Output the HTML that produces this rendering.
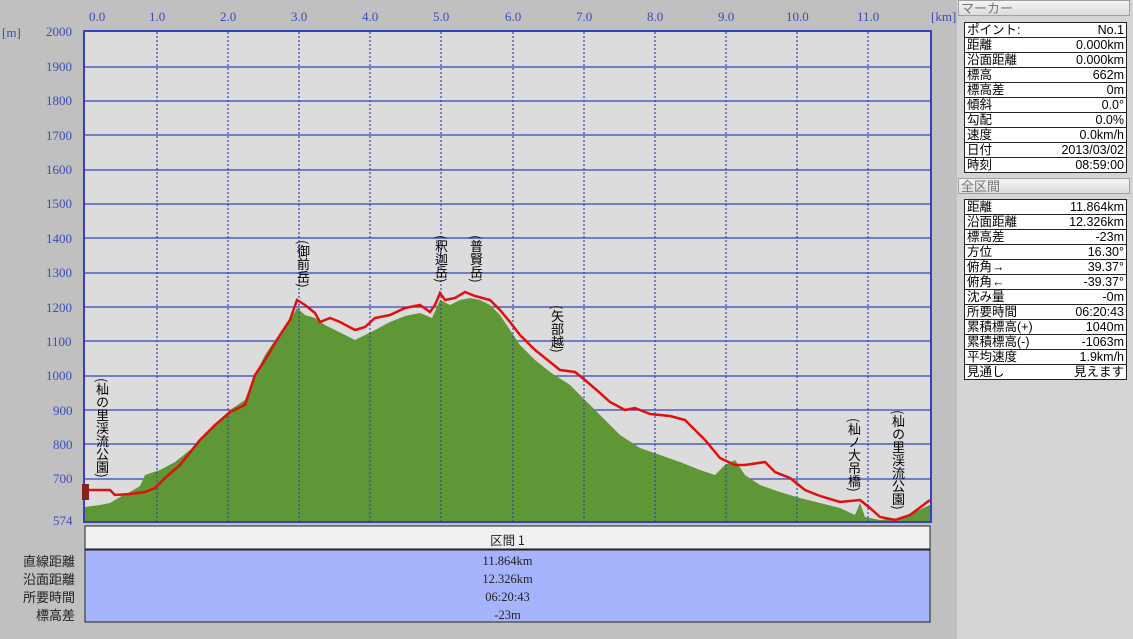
<!DOCTYPE html>
<html><head><meta charset="utf-8"><style>
body{margin:0;width:1133px;height:639px;background:#c0c0c0;position:relative;overflow:hidden;font-family:"Liberation Serif","Noto Serif CJK SC","Noto Sans CJK JP",serif;}
.ax{position:absolute;color:#3c4cb4;font-size:13px;}
.rp{position:absolute;left:957px;top:0;width:176px;height:639px;background:#d4d4d4;}
.hd{position:absolute;left:958px;width:172px;height:16px;background:linear-gradient(#f4f4f4,#dcdcdc);border:1px solid #a0a0a0;font-size:13px;color:#777;line-height:16px;padding-left:2px;box-sizing:border-box;font-family:"Liberation Sans","Noto Sans CJK JP",sans-serif;}
table{position:absolute;left:964px;border-collapse:collapse;background:#fff;font-size:12.5px;width:163px;font-family:"Liberation Sans","Noto Sans CJK JP",sans-serif;border:1px solid #222;}
td{border-top:1px solid #222;border-bottom:1px solid #222;height:14px;padding:0 2px;line-height:14px;white-space:nowrap;}
td:last-child{text-align:right;}
.vl{position:absolute;writing-mode:vertical-rl;font-size:13px;color:#000;font-family:"Noto Sans CJK JP",sans-serif;line-height:14px;}
.lb{position:absolute;left:0;width:75px;text-align:right;font-size:13px;color:#222;font-family:"Noto Sans CJK JP",sans-serif;}
.vv{position:absolute;left:85px;width:845px;text-align:center;font-size:12.5px;color:#222;}
</style></head><body>
<div class="ax" style="left:2px;top:25px">[m]</div>
<div class="ax" style="left:931px;top:9px">[km]</div>
<div class="ax" style="left:89px;top:9px">0.0</div>
<div class="ax" style="left:149px;top:9px">1.0</div>
<div class="ax" style="left:220px;top:9px">2.0</div>
<div class="ax" style="left:291px;top:9px">3.0</div>
<div class="ax" style="left:362px;top:9px">4.0</div>
<div class="ax" style="left:433px;top:9px">5.0</div>
<div class="ax" style="left:505px;top:9px">6.0</div>
<div class="ax" style="left:576px;top:9px">7.0</div>
<div class="ax" style="left:647px;top:9px">8.0</div>
<div class="ax" style="left:718px;top:9px">9.0</div>
<div class="ax" style="left:786px;top:9px">10.0</div>
<div class="ax" style="left:857px;top:9px">11.0</div>
<div class="ax" style="left:46px;top:24px">2000</div>
<div class="ax" style="left:46px;top:59px">1900</div>
<div class="ax" style="left:46px;top:93px">1800</div>
<div class="ax" style="left:46px;top:128px">1700</div>
<div class="ax" style="left:46px;top:162px">1600</div>
<div class="ax" style="left:46px;top:196px">1500</div>
<div class="ax" style="left:46px;top:231px">1400</div>
<div class="ax" style="left:46px;top:265px">1300</div>
<div class="ax" style="left:46px;top:300px">1200</div>
<div class="ax" style="left:46px;top:334px">1100</div>
<div class="ax" style="left:46px;top:368px">1000</div>
<div class="ax" style="left:53px;top:403px">900</div>
<div class="ax" style="left:53px;top:437px">800</div>
<div class="ax" style="left:53px;top:471px">700</div>
<div class="ax" style="left:53px;top:513px">574</div>
<svg style="position:absolute;left:0;top:0" width="957" height="639">
<rect x="84" y="31" width="847" height="491" fill="#dcdcdc" stroke="#3344bb" stroke-width="2"/>
<g stroke="#3344bb" stroke-width="1.2">
<line x1="85" x2="930" y1="67" y2="67"/><line x1="85" x2="930" y1="101" y2="101"/><line x1="85" x2="930" y1="135" y2="135"/><line x1="85" x2="930" y1="170" y2="170"/><line x1="85" x2="930" y1="204" y2="204"/><line x1="85" x2="930" y1="238" y2="238"/><line x1="85" x2="930" y1="273" y2="273"/><line x1="85" x2="930" y1="307" y2="307"/><line x1="85" x2="930" y1="341" y2="341"/><line x1="85" x2="930" y1="376" y2="376"/><line x1="85" x2="930" y1="410" y2="410"/><line x1="85" x2="930" y1="444" y2="444"/><line x1="85" x2="930" y1="479" y2="479"/>
</g>
<polygon fill="#5f9636" points="85,507 100,505 110,503 120,497 130,492 140,486 145,475 160,470 175,462 190,450 210,430 230,410 245,400 255,375 265,355 275,340 285,330 297,308 305,315 315,318 325,325 335,330 345,335 355,340 365,335 375,330 390,322 405,316 420,313 432,318 440,300 450,305 460,300 470,298 480,300 490,305 500,315 510,330 520,345 535,360 550,372 570,385 590,405 605,420 620,435 640,448 660,455 680,462 700,470 715,475 725,465 735,460 745,475 760,485 780,492 800,498 820,503 840,508 855,515 860,503 865,517 880,520 900,518 915,512 930,505 930,521 85,521"/>
<g stroke="#3344bb" stroke-width="1.2" stroke-dasharray="2,2">
<line x1="157" x2="157" y1="32" y2="521"/><line x1="228" x2="228" y1="32" y2="521"/><line x1="299" x2="299" y1="32" y2="521"/><line x1="370" x2="370" y1="32" y2="521"/><line x1="441" x2="441" y1="32" y2="521"/><line x1="513" x2="513" y1="32" y2="521"/><line x1="584" x2="584" y1="32" y2="521"/><line x1="655" x2="655" y1="32" y2="521"/><line x1="726" x2="726" y1="32" y2="521"/><line x1="797" x2="797" y1="32" y2="521"/><line x1="868" x2="868" y1="32" y2="521"/>
</g>
<polyline fill="none" stroke="#e01010" stroke-width="2.5" points="85,490 110,490 115,495 130,494 145,492 155,488 165,478 180,465 200,440 215,425 230,412 245,405 255,375 265,360 280,335 290,320 297,300 305,305 315,313 320,322 330,318 340,322 355,330 365,327 375,318 390,315 405,308 420,305 430,312 435,305 440,293 445,300 455,298 465,292 475,296 490,300 500,310 510,322 520,335 535,350 550,362 560,370 575,372 585,380 600,393 610,402 625,410 635,408 650,414 670,416 685,420 695,430 705,440 720,458 735,465 745,465 765,462 775,472 790,478 805,490 820,496 840,502 860,500 870,508 880,517 895,520 910,515 930,500"/>
<rect x="82" y="484" width="7" height="16" fill="#8b2020"/>
<rect x="85" y="526" width="845" height="23" fill="#f0f0f0" stroke="#222" stroke-width="1"/>
<rect x="85" y="550" width="845" height="72" fill="#a5b4fc" stroke="#222" stroke-width="1"/>
</svg>
<div class="vl" style="left:95px;top:378px">(杣の里渓流公園)</div>
<div class="vl" style="left:296px;top:240px">(御前岳)</div>
<div class="vl" style="left:434px;top:235px">(釈迦岳)</div>
<div class="vl" style="left:469px;top:235px">(普賢岳)</div>
<div class="vl" style="left:550px;top:305px">(矢部越)</div>
<div class="vl" style="left:847px;top:418px">(杣ノ大吊橋)</div>
<div class="vl" style="left:891px;top:410px">(杣の里渓流公園)</div>
<div class="vv" style="top:530px;font-family:'Noto Sans CJK JP',sans-serif">区間 1</div>
<div class="lb" style="top:551px">直線距離</div><div class="vv" style="top:554px">11.864km</div>
<div class="lb" style="top:569px">沿面距離</div><div class="vv" style="top:572px">12.326km</div>
<div class="lb" style="top:587px">所要時間</div><div class="vv" style="top:590px">06:20:43</div>
<div class="lb" style="top:605px">標高差</div><div class="vv" style="top:608px">-23m</div>
<div class="rp"></div>
<div class="hd" style="top:0">マーカー</div>
<table style="top:22px">
<tr><td>ポイント:</td><td>No.1</td></tr><tr><td>距離</td><td>0.000km</td></tr><tr><td>沿面距離</td><td>0.000km</td></tr><tr><td>標高</td><td>662m</td></tr><tr><td>標高差</td><td>0m</td></tr><tr><td>傾斜</td><td>0.0°</td></tr><tr><td>勾配</td><td>0.0%</td></tr><tr><td>速度</td><td>0.0km/h</td></tr><tr><td>日付</td><td>2013/03/02</td></tr><tr><td>時刻</td><td>08:59:00</td></tr>
</table>
<div class="hd" style="top:178px">全区間</div>
<table style="top:199px">
<tr><td>距離</td><td>11.864km</td></tr><tr><td>沿面距離</td><td>12.326km</td></tr><tr><td>標高差</td><td>-23m</td></tr><tr><td>方位</td><td>16.30°</td></tr><tr><td>俯角→</td><td>39.37°</td></tr><tr><td>俯角←</td><td>-39.37°</td></tr><tr><td>沈み量</td><td>-0m</td></tr><tr><td>所要時間</td><td>06:20:43</td></tr><tr><td>累積標高(+)</td><td>1040m</td></tr><tr><td>累積標高(-)</td><td>-1063m</td></tr><tr><td>平均速度</td><td>1.9km/h</td></tr><tr><td>見通し</td><td>見えます</td></tr>
</table>
</body></html>
